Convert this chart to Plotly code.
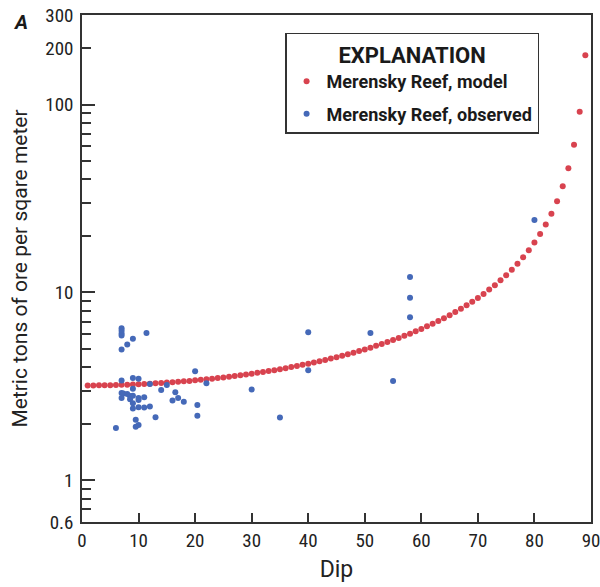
import plotly.graph_objects as go

# Model: dip (degrees) and tonnage (metric tons of ore per square meter)
model_dip = list(range(1, 90))
model_tons = [3.200, 3.202, 3.204, 3.208, 3.212, 3.218, 3.224, 3.231, 3.240, 3.249,
              3.260, 3.271, 3.284, 3.298, 3.313, 3.329, 3.346, 3.365, 3.384, 3.405,
              3.428, 3.451, 3.476, 3.503, 3.531, 3.560, 3.591, 3.624, 3.659, 3.695,
              3.733, 3.773, 3.816, 3.860, 3.906, 3.955, 4.007, 4.061, 4.118, 4.177,
              4.240, 4.306, 4.375, 4.449, 4.525, 4.607, 4.692, 4.782, 4.878, 4.978,
              5.085, 5.198, 5.317, 5.444, 5.579, 5.723, 5.875, 6.039, 6.213, 6.400,
              6.601, 6.816, 7.049, 7.300, 7.572, 7.867, 8.190, 8.542, 8.929, 9.356,
              9.829, 10.36, 10.94, 11.61, 12.36, 13.23, 14.23, 15.39, 16.77, 18.43,
              20.46, 22.99, 26.26, 30.61, 36.72, 45.87, 61.14, 91.69, 183.4]

# Observed
obs_dip = [6, 7, 7, 7, 7, 7, 8, 9, 11.4, 7, 9, 10, 12, 14, 15, 16.5, 20, 22,
           7, 7.3, 8, 8.5, 9, 9, 7, 8.5, 10, 10, 11, 9, 9, 10, 11, 12, 13,
           16, 17, 18, 20.4, 20.4, 9.5, 9.5, 10, 30, 35, 40, 40, 51, 55,
           58, 58, 58, 80]
obs_tons = [1.90, 6.45, 6.25, 6.05, 5.9, 4.97, 5.28, 5.67, 6.08, 3.40, 3.51, 3.47, 3.26, 3.03, 3.22, 2.94, 3.81, 3.29,
            2.92, 2.90, 2.88, 2.81, 2.82, 3.07, 2.74, 2.70, 2.74, 2.68, 2.77, 2.57, 2.41, 2.45, 2.44, 2.47, 2.17,
            2.66, 2.74, 2.62, 2.52, 2.21, 2.10, 1.93, 1.97, 3.04, 2.16, 6.15, 3.86, 6.08, 3.38,
            12.1, 9.37, 7.39, 24.3]

y_tickvals = [0.6, 1, 10, 100, 200, 300]
y_ticktext = ["0.6", "1", "10", "100", "200", "300"]
y_minor = [0.7, 0.8, 0.9, 2, 3, 4, 5, 6, 7, 8, 9, 20, 30, 40, 50, 60, 70, 80, 90]
y_major_long = [1, 10, 100]
x_tickvals = [0, 10, 20, 30, 40, 50, 60, 70, 80, 90]

COND = "Roboto Condensed, Liberation Sans Narrow, DejaVu Sans Condensed, sans-serif"
REG = "Roboto, Liberation Sans, sans-serif"
RED = "#d8434f"
BLUE = "#4569b8"
AX = "#333333"
TXT = "#222222"

fig = go.Figure()
fig.add_trace(go.Scatter(x=model_dip, y=model_tons, mode="markers",
                         name="Merensky Reef, model", legendgroup="model",
                         marker=dict(color=RED, size=6, line=dict(width=0))))
fig.add_trace(go.Scatter(x=obs_dip, y=obs_tons, mode="markers",
                         name="Merensky Reef, observed", legendgroup="observed",
                         marker=dict(color=BLUE, size=6, line=dict(width=0))))

fig.update_layout(
    width=600, height=587,
    margin=dict(l=82, r=9, t=15, b=65, autoexpand=False),
    paper_bgcolor="white", plot_bgcolor="white",
    font=dict(family=COND, size=19, color=TXT),
    showlegend=True,
    legend=dict(
        x=0.399, y=0.9645, xanchor="left", yanchor="top",
        bgcolor="white", bordercolor=AX, borderwidth=1.5,
        font=dict(family=REG, size=18, color="#1a1a1a", weight="bold"),
        title=dict(text="<b>EXPLANATION</b>", side="top center",
                   font=dict(family=REG, size=22, color="#1a1a1a")),
        itemsizing="trace",
        tracegroupgap=6,
        itemwidth=30,
    ),
    xaxis=dict(
        range=[0, 90], tickvals=x_tickvals, ticks="inside", ticklen=9,
        tickwidth=1.5, tickcolor=AX, showline=True, linecolor=AX, linewidth=1.5,
        mirror=True, showgrid=False, zeroline=False, automargin=False,
        ticklabeloverflow="allow",
        title=dict(text="Dip", font=dict(family=REG, size=23), standoff=10),
        tickfont=dict(size=19),
    ),
    yaxis=dict(
        type="log", range=[-0.2218, 2.4771],
        tickvals=y_tickvals, ticktext=y_ticktext, ticks="inside", ticklen=9,
        tickwidth=1.5, tickcolor=AX, showline=True, linecolor=AX, linewidth=1.5,
        mirror=True, showgrid=False, zeroline=False, automargin=False,
        ticklabeloverflow="allow", ticklabelstandoff=3,
        minor=dict(tickvals=y_minor, ticks="inside", ticklen=9, tickwidth=1.5,
                   tickcolor=AX, showgrid=False),
        title=dict(text="Metric tons of ore per sqare meter", font=dict(family=REG, size=21), standoff=12),
        tickfont=dict(size=19),
    ),
    yaxis2=dict(
        type="log", range=[-0.2218, 2.4771], overlaying="y", side="left",
        tickvals=y_major_long, showticklabels=False, ticks="inside", ticklen=13,
        tickwidth=1.5, tickcolor=AX, showline=False, showgrid=False, zeroline=False,
        automargin=False,
    ),
)

# invisible trace to activate the long-tick axis
fig.add_trace(go.Scatter(x=[None], y=[None], yaxis="y2", showlegend=False, hoverinfo="skip"))

fig.add_annotation(text="<b><i>A</i></b>", xref="paper", yref="paper",
                   x=-0.1218, y=0.986, xanchor="center", yanchor="middle",
                   showarrow=False, font=dict(family=REG, size=20, color="#1a1a1a"))

fig.write_html("out.html",
               config={"displayModeBar": False},
               post_script="document.body.style.margin='0';document.body.style.overflow='hidden';")
